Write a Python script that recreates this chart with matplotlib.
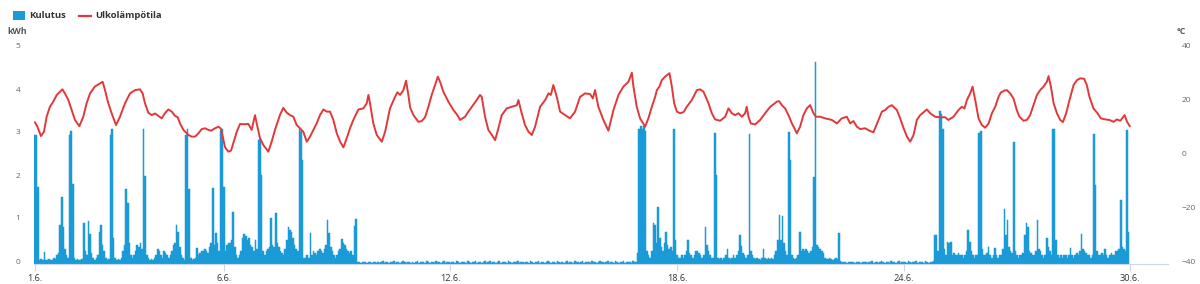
import numpy as np
import matplotlib.pyplot as plt
from matplotlib.patches import Rectangle
from matplotlib.lines import Line2D
from matplotlib import transforms

plt.rcParams['font.family'] = ['Open Sans', 'DejaVu Sans']

# hourly consumption (kWh), one row per day, 1.6. - 29.6.
kulutus_paivat = [
    [3.0, 3.0, 1.8, 0.1, 0.12, 0.1, 0.28, 0.1, 0.1, 0.12, 0.1, 0.1, 0.15, 0.12, 0.2, 0.25, 0.9, 1.55, 0.85, 0.35, 0.2, 0.15, 3.0, 3.1],
    [1.85, 0.15, 0.1, 0.12, 0.1, 0.1, 0.12, 0.95, 0.3, 0.2, 1.0, 0.7, 0.25, 0.15, 0.1, 0.15, 0.2, 0.75, 0.9, 0.45, 0.3, 0.15, 0.1, 0.12],
    [3.0, 3.15, 0.6, 0.15, 0.1, 0.12, 0.1, 0.15, 0.3, 0.45, 1.74, 1.43, 0.5, 0.2, 0.15, 0.2, 0.3, 0.45, 0.4, 0.5, 0.35, 3.15, 2.05, 0.2],
    [0.15, 0.1, 0.12, 0.1, 0.15, 0.2, 0.35, 0.3, 0.2, 0.15, 0.3, 0.25, 0.2, 0.15, 0.2, 0.3, 0.45, 0.5, 0.9, 0.75, 0.4, 0.2, 0.15, 0.1],
    [3.0, 3.15, 1.75, 0.15, 0.1, 0.12, 0.15, 0.38, 0.2, 0.25, 0.3, 0.3, 0.35, 0.3, 0.25, 0.4, 0.5, 1.77, 0.45, 0.72, 0.5, 0.3, 3.1, 3.15],
    [1.8, 0.3, 0.45, 0.5, 0.5, 0.55, 1.22, 0.4, 0.2, 0.15, 0.2, 0.3, 0.6, 0.7, 0.65, 0.55, 0.6, 0.45, 0.4, 0.3, 0.55, 0.35, 2.88, 2.9],
    [2.07, 0.3, 0.2, 0.3, 0.35, 0.4, 1.08, 0.45, 0.4, 1.18, 0.5, 0.4, 0.3, 0.25, 0.2, 0.35, 0.55, 0.87, 0.8, 0.75, 0.6, 0.45, 0.35, 0.3],
    [3.15, 3.1, 2.42, 0.15, 0.15, 0.2, 0.15, 0.72, 0.2, 0.3, 0.25, 0.2, 0.3, 0.35, 0.3, 0.25, 0.35, 0.45, 1.02, 0.72, 0.4, 0.3, 0.2, 0.15],
    [0.2, 0.3, 0.35, 0.58, 0.5, 0.45, 0.35, 0.3, 0.25, 0.3, 0.2, 0.88, 1.04, 0.05, 0.04, 0.03, 0.05, 0.04, 0.04, 0.03, 0.05, 0.04, 0.03, 0.04],
    [0.04, 0.03, 0.05, 0.03, 0.04, 0.06, 0.03, 0.04, 0.04, 0.03, 0.05, 0.04, 0.06, 0.03, 0.04, 0.05, 0.03, 0.04, 0.06, 0.04, 0.03, 0.05, 0.04, 0.03],
    [0.05, 0.03, 0.04, 0.06, 0.03, 0.04, 0.05, 0.04, 0.03, 0.06, 0.04, 0.03, 0.05, 0.04, 0.03, 0.06, 0.04, 0.04, 0.03, 0.05, 0.06, 0.03, 0.04, 0.04],
    [0.03, 0.05, 0.04, 0.03, 0.06, 0.04, 0.03, 0.05, 0.04, 0.04, 0.03, 0.06, 0.04, 0.03, 0.05, 0.04, 0.06, 0.03, 0.04, 0.05, 0.03, 0.04, 0.06, 0.03],
    [0.04, 0.06, 0.03, 0.04, 0.05, 0.03, 0.04, 0.06, 0.03, 0.04, 0.05, 0.04, 0.03, 0.06, 0.04, 0.03, 0.05, 0.04, 0.04, 0.06, 0.03, 0.05, 0.04, 0.03],
    [0.05, 0.04, 0.03, 0.06, 0.04, 0.03, 0.05, 0.04, 0.06, 0.03, 0.04, 0.05, 0.03, 0.04, 0.06, 0.04, 0.03, 0.05, 0.04, 0.03, 0.06, 0.04, 0.03, 0.05],
    [0.03, 0.04, 0.06, 0.03, 0.05, 0.04, 0.03, 0.06, 0.04, 0.05, 0.03, 0.04, 0.06, 0.03, 0.04, 0.05, 0.04, 0.03, 0.06, 0.04, 0.05, 0.03, 0.04, 0.06],
    [0.04, 0.05, 0.03, 0.04, 0.06, 0.03, 0.05, 0.04, 0.03, 0.06, 0.04, 0.03, 0.05, 0.04, 0.06, 0.03, 0.04, 0.05, 0.04, 0.03, 0.06, 0.04, 0.05, 0.25],
    [3.15, 3.2, 3.15, 3.2, 3.1, 0.3, 0.2, 0.15, 0.3, 0.95, 0.9, 0.5, 1.33, 0.6, 0.4, 0.3, 0.5, 0.75, 0.45, 0.35, 0.4, 0.3, 3.15, 0.56],
    [0.2, 0.15, 0.15, 0.2, 0.15, 0.2, 0.3, 0.55, 0.25, 0.2, 0.15, 0.2, 0.3, 0.3, 0.25, 0.2, 0.15, 0.2, 0.87, 0.45, 0.3, 0.2, 0.15, 0.15],
    [3.05, 2.07, 0.15, 0.12, 0.15, 0.1, 0.15, 0.2, 0.35, 0.15, 0.12, 0.15, 0.2, 0.15, 0.2, 0.3, 0.67, 0.42, 0.25, 0.2, 0.15, 0.2, 3.02, 0.3],
    [0.2, 0.15, 0.12, 0.15, 0.12, 0.1, 0.15, 0.36, 0.15, 0.12, 0.15, 0.12, 0.15, 0.12, 0.2, 0.3, 0.56, 1.14, 0.56, 1.12, 0.5, 0.3, 0.2, 3.06],
    [2.42, 0.2, 0.15, 0.12, 0.15, 0.2, 0.75, 0.3, 0.35, 0.3, 0.35, 0.3, 0.25, 0.3, 0.4, 2.03, 4.7, 0.45, 0.4, 0.35, 0.3, 0.25, 0.15, 0.12],
    [0.12, 0.15, 0.12, 0.1, 0.12, 0.15, 0.12, 0.71, 0.06, 0.04, 0.05, 0.04, 0.03, 0.05, 0.04, 0.04, 0.05, 0.03, 0.04, 0.05, 0.04, 0.03, 0.04, 0.05],
    [0.04, 0.03, 0.05, 0.04, 0.06, 0.03, 0.04, 0.05, 0.03, 0.04, 0.06, 0.04, 0.03, 0.05, 0.04, 0.03, 0.06, 0.04, 0.05, 0.03, 0.04, 0.06, 0.03, 0.04],
    [0.05, 0.04, 0.03, 0.06, 0.04, 0.03, 0.05, 0.04, 0.06, 0.03, 0.04, 0.05, 0.04, 0.03, 0.06, 0.04, 0.03, 0.05, 0.04, 0.06, 0.67, 0.67, 0.3, 3.56],
    [3.5, 3.15, 0.35, 0.2, 0.52, 0.5, 0.52, 0.2, 0.25, 0.2, 0.2, 0.25, 0.2, 0.2, 0.15, 0.2, 0.3, 0.79, 0.52, 0.3, 0.2, 0.15, 0.2, 0.2],
    [3.05, 3.1, 0.35, 0.2, 0.2, 0.25, 0.4, 0.2, 0.15, 0.2, 0.37, 0.2, 0.15, 0.2, 0.2, 0.35, 1.27, 0.67, 1.02, 0.4, 0.3, 0.25, 2.84, 0.3],
    [0.2, 0.15, 0.2, 0.2, 0.25, 0.67, 0.96, 0.85, 0.3, 0.25, 0.2, 0.2, 0.3, 1.02, 0.35, 0.3, 0.2, 0.15, 0.2, 0.6, 0.4, 0.3, 0.2, 3.15],
    [3.13, 0.55, 0.2, 0.15, 0.2, 0.15, 0.2, 0.2, 0.15, 0.2, 0.37, 0.2, 0.15, 0.2, 0.25, 0.2, 0.3, 0.69, 0.35, 0.3, 0.25, 0.2, 0.2, 0.15],
    [0.2, 3.02, 1.84, 0.3, 0.2, 0.2, 0.25, 0.2, 0.35, 0.2, 0.15, 0.2, 0.25, 0.2, 0.2, 0.3, 0.3, 0.35, 1.49, 0.4, 0.35, 0.3, 3.12, 0.75],
]
kulutus = [v for paiva in kulutus_paivat for v in paiva]

# outdoor temperature readings: hour from 1.6. 00:00 and degrees C
temp_hours = [
    0, 1.5, 3.8, 5.7, 7.4, 9.5, 11.6, 13.8, 15.9, 17.4, 19, 21.2, 23.3, 25.4, 28.2, 30.7, 32.8, 35, 38, 41.3,
    43, 44.5, 46.6, 48.7, 51.5, 54, 57.2, 60.4, 63.6, 66.7, 68.4, 69.9, 72, 74.2, 76.3, 78.4, 80.5, 82.6, 84.7, 86.9,
    89, 90.7, 92.2, 94.3, 97.5, 99.6, 101.7, 103.8, 106, 108, 110.2, 111.9, 114.4, 116.5, 118, 119.3, 120.8, 122.9, 124.6, 126,
    128.2, 130.3, 133, 135.6, 137.7, 139.8, 140.9, 143, 145.1, 148.3, 150.4, 152.5, 155.7, 157.8, 160, 162.1, 164.2, 166.3, 168.4, 170.5,
    172.7, 174.8, 176.9, 179, 181.1, 183.3, 185.4, 187.5, 189.6, 191.8, 193.9, 196, 198.1, 200.2, 202.3, 205.5, 208.7, 210.8, 211.9, 212.9,
    215, 217.2, 220.4, 222.5, 225.6, 228.8, 230.3, 232, 234.1, 235.8, 237.3, 238.4, 240.5, 243.6, 245.8, 247.9, 250, 252.1, 254.2, 256,
    257.4, 259.5, 262.7, 265.9, 268.4, 270.1, 273.3, 275.4, 277.6, 280.7, 282.8, 283.9, 286, 288.1, 290.3, 292.4, 294.5, 296.6, 299.8, 303,
    306.2, 307.2, 309.3, 311.4, 313.6, 315.7, 317.8, 321, 324.2, 326.3, 327.8, 329.4, 331.6, 333.7, 336.9, 340, 343.2, 346.4, 349.6, 352.8,
    354.5, 355.9, 358, 361.2, 364.4, 367.6, 370.8, 373.9, 377.1, 379.3, 380.3, 382.4, 384.5, 387.7, 389.8, 392, 394.1, 395.2, 396.8, 398.3,
    400.4, 403.2, 404.7, 406.2, 407.9, 410, 412.1, 414.2, 417.4, 420.6, 422.7, 424.8, 428, 430.1, 432.2, 435.4, 438.6, 440.7, 442.8, 444.9,
    447, 449.2, 451.3, 452.3, 453.4, 454.9, 457.6, 460.8, 464, 467.2, 469.3, 471.4, 472.9, 474.6, 476.7, 478.8, 481, 483.1, 484.1, 486.2,
    488.3, 490.5, 492.6, 494.7, 496.2, 498.9, 502.1, 506.4, 509.6, 512.7, 515.9, 518, 520.1, 522.3, 524.4, 527.5, 530.7, 532.8, 536, 538.2,
    540.3, 542.4, 544.5, 545.6, 547.7, 549.8, 552, 554.1, 556.2, 558.3, 560.4, 562.5, 566.8, 568.9, 572, 575.2, 578.4, 580.5, 583.7, 586.9,
    589, 590.7, 592.2, 594.3, 595.8, 597.5, 599.6, 601.7, 603.8, 606, 608.1, 610.2, 612.3, 613.8, 615.9, 617.6, 619.7, 621.8, 623.9, 625.6,
    628.2, 630.3, 632.4, 634.5, 636.7, 638.8, 640.9, 643, 644.1, 645.6, 647.3, 649.4, 651.5, 653.2, 655.3, 657.4, 660, 662.1, 664.2, 666.7,
    668.4, 670.1, 672.6, 675.2, 677.3, 680.1, 682.8, 685.4, 687.5, 689.7, 691.4, 692.4, 694, 695.7,
]
temp_c = [
    12.7, 11.1, 7.6, 9.2, 14.8, 18.5, 20.4, 22.9, 24.1, 25.0, 23.5, 21.0, 17.3, 13.6, 11.3, 14.8, 19.8, 23.5, 26.0, 27.2,
    27.8, 24.7, 19.8, 16.1, 11.7, 14.8, 19.8, 23.5, 24.7, 25.0, 23.5, 19.8, 16.3, 15.4, 16.0, 15.1, 14.2, 16.1, 17.5, 16.7,
    15.1, 14.6, 12.3, 9.9, 8.0, 7.4, 7.4, 8.6, 10.2, 10.5, 9.9, 9.6, 10.5, 11.1, 10.5, 7.4, 3.4, 1.8, 2.2, 4.9,
    9.2, 12.1, 12.0, 12.1, 9.9, 15.4, 12.3, 6.8, 4.3, 1.8, 5.5, 9.9, 15.5, 18.1, 16.3, 15.4, 14.8, 11.7, 10.5, 9.2,
    5.5, 7.4, 9.9, 12.3, 15.4, 17.5, 16.7, 16.7, 13.6, 8.6, 5.5, 3.4, 6.8, 10.5, 13.6, 17.5, 17.9, 19.8, 22.9, 19.8,
    12.3, 8.0, 5.5, 9.2, 17.9, 22.2, 23.9, 22.9, 24.7, 28.2, 22.8, 18.2, 15.4, 12.9, 13.2, 14.6, 18.5, 22.9, 26.6, 29.7,
    27.8, 24.1, 20.4, 17.3, 15.4, 13.6, 14.8, 16.7, 18.5, 21.0, 22.9, 22.2, 14.8, 9.9, 8.0, 6.1, 10.5, 15.4, 17.9, 18.5,
    19.1, 21.0, 16.1, 11.7, 9.2, 8.0, 11.1, 18.5, 21.0, 23.5, 22.9, 26.6, 22.2, 16.7, 15.4, 14.2, 16.7, 22.2, 23.5, 23.2,
    21.6, 24.7, 18.5, 13.6, 9.6, 17.3, 22.9, 26.0, 27.8, 31.2, 26.0, 18.5, 14.2, 11.1, 14.2, 18.5, 22.2, 24.7, 26.0, 28.4,
    29.7, 31.0, 26.0, 19.8, 16.7, 16.1, 16.5, 18.5, 21.0, 24.7, 25.0, 24.1, 19.8, 16.1, 13.8, 13.3, 14.8, 17.9, 16.1, 15.4,
    16.1, 14.8, 16.1, 18.5, 14.8, 12.3, 11.9, 13.6, 16.1, 18.5, 19.4, 20.4, 20.6, 19.1, 17.9, 15.4, 12.3, 9.9, 8.6, 11.1,
    15.4, 17.9, 19.1, 16.1, 14.8, 14.8, 14.2, 13.6, 12.3, 14.2, 14.8, 12.3, 13.2, 11.1, 10.2, 10.5, 9.5, 9.0, 13.6, 16.7,
    17.3, 18.5, 19.1, 18.5, 17.3, 14.2, 10.5, 7.4, 5.5, 8.0, 13.6, 15.4, 17.5, 16.1, 14.8, 14.6, 14.6, 13.6, 14.8, 17.3,
    18.5, 17.9, 21.0, 23.5, 26.0, 21.0, 14.2, 11.7, 10.7, 12.3, 16.1, 18.5, 22.2, 23.8, 24.5, 24.7, 23.5, 21.6, 17.3, 14.8,
    13.3, 13.6, 15.4, 19.1, 22.9, 24.7, 26.0, 27.8, 29.9, 26.0, 19.8, 16.1, 13.6, 12.8, 16.1, 21.0, 26.6, 28.4, 29.1, 28.9,
    26.6, 22.2, 17.9, 16.1, 14.2, 13.8, 13.6, 12.9, 13.8, 13.3, 14.6, 15.4, 12.9, 11.3,
]

tick_hours = [0, 120, 264, 408, 552, 696]
tick_labels = ["1.6.", "6.6.", "12.6.", "18.6.", "24.6.", "30.6."]

BLUE = "#1a9bd7"
RED = "#e2383a"
AXIS = "#ccd6eb"

W, H = 1200, 284
fig = plt.figure(figsize=(W / 100, H / 100), dpi=100)
ax = fig.add_axes([34.2 / W, 20 / H, (1168 - 34.2) / W, 215 / H])

ax.bar(np.arange(len(kulutus)), kulutus, width=1.0, color=BLUE, edgecolor=BLUE, linewidth=0.35)
ax.set_xlim(-0.5, 720)
ax.set_ylim(0, 5)
ax.set_yticks([0, 1, 2, 3, 4, 5])
ax.set_xticks(tick_hours)
ax.set_xticklabels(tick_labels)

for s in ["top", "left", "right"]:
    ax.spines[s].set_visible(False)
ax.spines["bottom"].set_color(AXIS)
ax.tick_params(axis="x", length=5, color=AXIS, labelsize=6.6, labelcolor="#333333", pad=2)
ax.tick_params(axis="y", length=0, labelsize=6, labelcolor="#666666", pad=10)

ax2 = ax.twinx()
ax2.plot(temp_hours, temp_c, color=RED, lw=1.4)
ax2.set_ylim(-40, 40)
ax2.set_yticks([-40, -20, 0, 20, 40])
for s in ax2.spines.values():
    s.set_visible(False)
ax2.tick_params(axis="y", length=0, labelsize=6, labelcolor="#666666", pad=10)

# lift the y labels slightly like in the original
lift = transforms.ScaledTranslation(0, 3 / 100, fig.dpi_scale_trans)
for lab in ax.get_yticklabels() + ax2.get_yticklabels():
    lab.set_transform(lab.get_transform() + lift)

# legend
fig.add_artist(Rectangle((13 / W, 1 - 20 / H), 12 / W, 9 / H, transform=fig.transFigure,
                         color=BLUE, linewidth=0))
fig.text(29 / W, 1 - 16 / H, "Kulutus", fontsize=6.8, weight="bold", color="#333333", va="center")
fig.add_artist(Line2D([79 / W, 91 / W], [1 - 16 / H, 1 - 16 / H], transform=fig.transFigure,
                      color=RED, lw=1.6))
fig.text(95 / W, 1 - 16 / H, "Ulkolämpötila", fontsize=6.8, weight="bold", color="#333333", va="center")

fig.text(7 / W, 1 - 32 / H, "kWh", fontsize=6.3, weight="bold", color="#555555", va="center")
fig.text(1177 / W, 1 - 32 / H, "°C", fontsize=6.3, weight="bold", color="#555555", va="center")

fig.savefig("out.png", dpi=100)
